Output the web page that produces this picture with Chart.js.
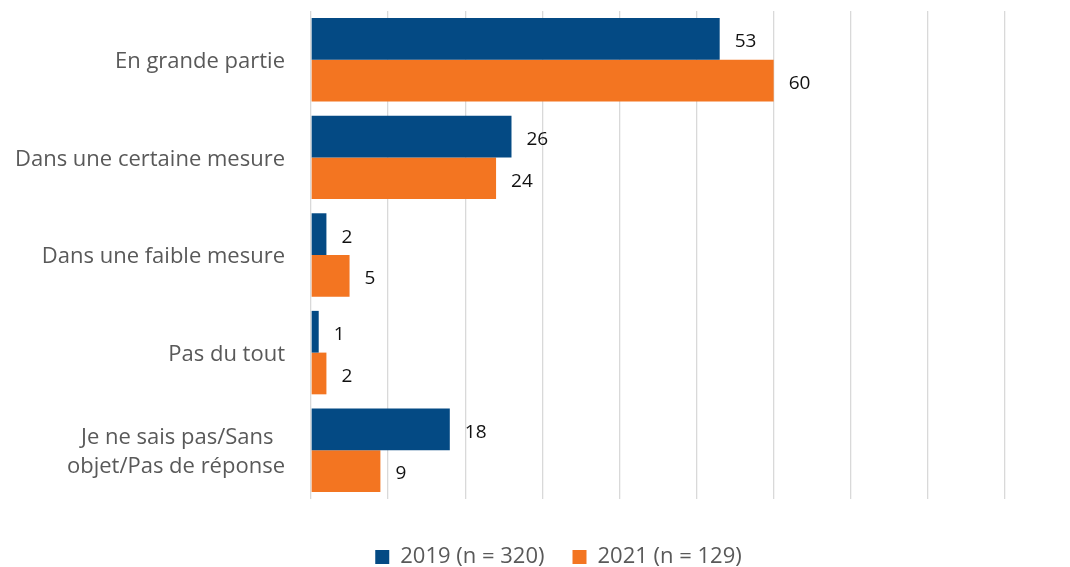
<!DOCTYPE html>
<html>
<head>
<meta charset="utf-8">
<script src="https://cdn.jsdelivr.net/npm/chart.js@4.4.0/dist/chart.umd.min.js"></script>
<style>
  html, body { margin: 0; padding: 0; background: #fff; }
  #wrap { width: 1070px; height: 567px; }
</style>
</head>
<body>
<div id="wrap"><canvas id="chart"></canvas></div>
<script>
// categories and values
const categories = [
    "En grande partie",
    "Dans une certaine mesure",
    "Dans une faible mesure",
    "Pas du tout",
    ["Je ne sais pas/Sans  ", "objet/Pas de réponse"]
];
const values2019 = [53, 26, 2, 1, 18];
const values2021 = [60, 24, 5, 2, 9];
const seriesLabels = ["2019 (n = 320)", "2021 (n = 129)"];

const FONT = "'Open Sans', 'Noto Sans', sans-serif";

// value labels right of each bar
const valueLabels = {
    id: 'valueLabels',
    afterDatasetsDraw(chart) {
        const ctx = chart.ctx;
        ctx.save();
        ctx.font = "19px " + FONT;
        ctx.fillStyle = "#111";
        ctx.textBaseline = "middle";
        ctx.textAlign = "left";
        chart.data.datasets.forEach(function (ds, i) {
            const meta = chart.getDatasetMeta(i);
            meta.data.forEach(function (bar, j) {
                ctx.fillText(ds.data[j], bar.x + 15, bar.y + 3);
            });
        });
        ctx.restore();
    }
};

// move the legend a bit right and down, like in the original
const legendShift = {
    id: 'legendShift',
    afterLayout(chart) {
        const lg = chart.legend;
        lg.left += 56;
        lg.right += 56;
        lg.top += 11;
        lg.bottom += 11;
    }
};

new Chart(document.getElementById('chart'), {
    type: 'bar',
    data: {
        labels: categories,
        datasets: [{
            label: seriesLabels[0],
            data: values2019,
            backgroundColor: '#044a84',
            categoryPercentage: 0.855,
            barPercentage: 1
        }, {
            label: seriesLabels[1],
            data: values2021,
            backgroundColor: '#f37521',
            categoryPercentage: 0.855,
            barPercentage: 1
        }]
    },
    options: {
        indexAxis: 'y',
        responsive: true,
        maintainAspectRatio: false,
        animation: false,
        layout: { padding: { left: 0, right: 65, top: 11, bottom: 0 } },
        plugins: {
            tooltip: { enabled: false },
            legend: {
                position: 'bottom',
                labels: {
                    boxWidth: 14,
                    boxHeight: 14,
                    padding: 28,
                    color: '#595959',
                    font: { family: FONT, size: 22 }
                }
            }
        },
        scales: {
            x: {
                min: 0,
                max: 90,
                ticks: { display: false, stepSize: 10 },
                grid: { color: '#d9d9d9', lineWidth: 1.3, drawTicks: false },
                border: { display: false },
                afterFit(scale) { scale.height = 8; }
            },
            y: {
                grid: { display: false, drawTicks: false },
                border: { display: false },
                ticks: {
                    padding: 26,
                    labelOffset: 2,
                    color: '#595959',
                    font: { family: FONT, size: 22, lineHeight: 1.36 }
                },
                afterFit(scale) {
                    scale.width = 311;
                    scale.paddingTop = 0;
                    scale.paddingBottom = 0;
                }
            }
        }
    },
    plugins: [valueLabels, legendShift]
});
</script>
</body>
</html>
